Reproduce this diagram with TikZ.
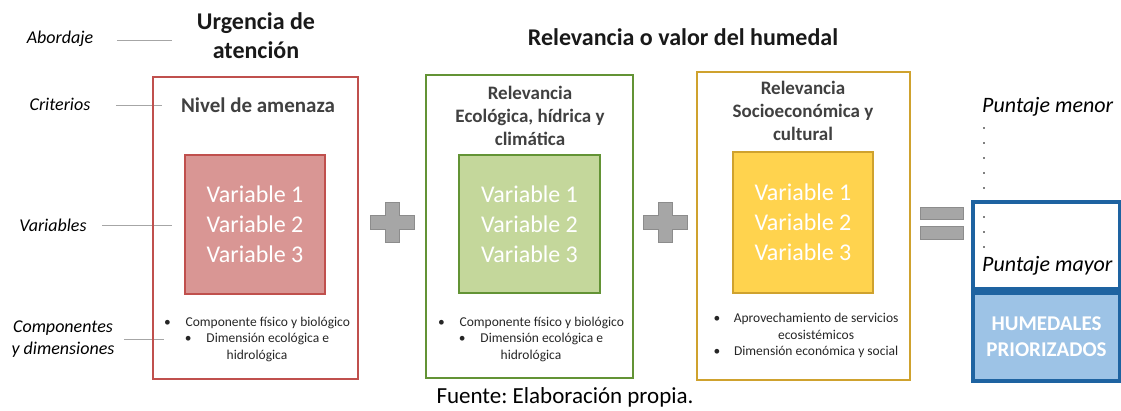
\documentclass[tikz,border=0pt]{standalone}
\usepackage{fontspec}
\setmainfont{Carlito}
\usetikzlibrary{positioning}
\definecolor{amenaza}{HTML}{C0504D}
\definecolor{amenazafill}{HTML}{D99694}
\definecolor{ecologica}{HTML}{639335}
\definecolor{ecologicafill}{HTML}{C4D79B}
\definecolor{social}{HTML}{CFA22E}
\definecolor{socialfill}{HTML}{FFD34E}
\definecolor{humedal}{HTML}{1E63A1}
\definecolor{humedalfill}{HTML}{9DC3E6}
\definecolor{signo}{HTML}{A6A6A6}
\definecolor{titulo}{HTML}{404040}
\frenchspacing

\begin{document}
\begin{tikzpicture}[x=1pt,y=-1pt,
  lbl/.style={font=\fontsize{18}{22}\selectfont\itshape, align=center},
  guide/.style={draw=black!35, line width=0.8pt},
  frame/.style={draw=#1, line width=2pt, inner sep=0pt},
  varbox/.style={draw=#1, fill=#1fill, line width=2.5pt, inner sep=0pt, text=white,
    font=\fontsize{24}{30}\selectfont, align=center},
  head/.style={font=\fontsize{24}{29}\selectfont\bfseries, text=black!90, align=center},
  crit/.style={font=\fontsize{19}{23}\selectfont\bfseries, text=titulo, align=center},
  bullets/.style={font=\fontsize{13.5}{16.5}\selectfont, text=black!85, align=center},
  score/.style={font=\fontsize{22}{25}\selectfont\itshape, anchor=west, inner sep=0pt},
  plusminus/.style={fill=signo, draw=black!45, line width=0.8pt}]
  \useasboundingbox (0,0) rectangle (1121,410);
  % left labels
  \node[lbl] (abordaje) at (60,39) {Abordaje};
  \node[lbl] (criterios) at (60,104) {Criterios};
  \node[lbl] (variables) at (53,225) {Variables};
  \node[lbl] (componentes) at (63,339) {Componentes\\y dimensiones};
  \coordinate (gabordaje) at (172,40);
  \coordinate (gcriterios) at (162,105);
  \coordinate (gvariables) at (172,225);
  \coordinate (gcomponentes) at (164,339);
  \draw[guide] ([xshift=20]abordaje.east |- gabordaje) -- (gabordaje);
  \draw[guide] ([xshift=22]criterios.east |- gcriterios) -- (gcriterios);
  \draw[guide] ([xshift=12]variables.east) -- (gvariables);
  \draw[guide] ([xshift=6]componentes.east) -- (gcomponentes);
  % headings
  \node[head] (urgencia) at (256,36) {Urgencia de\\atención};
  \node[head] (relevancia) at (683,37) {Relevancia o valor del humedal};
  % criteria
  \node[frame=amenaza, minimum width=205, minimum height=302] (amenaza) at (255.5,228) {};
  \node[frame=ecologica, minimum width=207, minimum height=303] (ecologica) at (529.5,226.5) {};
  \node[frame=social, minimum width=213, minimum height=308] (social) at (803.5,226) {};
  \node[crit, font=\fontsize{21}{25}\selectfont\bfseries] (tamenaza) at (258,105) {Nivel de amenaza};
  \node[crit] (tecologica) at (530,116) {Relevancia\\Ecológica, hídrica y\\climática};
  \node[crit] (tsocial) at (803,111) {Relevancia\\Socioeconómica y\\cultural};
  \node[varbox=amenaza, minimum width=140, minimum height=139] (vamenaza) at (255,224.5) {Variable 1\\Variable 2\\Variable 3};
  \node[varbox=ecologica, minimum width=141, minimum height=138] (vecologica) at (529.5,224) {Variable 1\\Variable 2\\Variable 3};
  \node[varbox=social, minimum width=140, minimum height=141] (vsocial) at (803,222.5) {Variable 1\\Variable 2\\Variable 3};
  \node[bullets] (bamenaza) at (257,339) {\textbullet\hspace{1.1em}Componente físico y biológico\\\textbullet\hspace{1.1em}Dimensión ecológica e\\hidrológica};
  \node[bullets] (becologica) at (531,339) {\textbullet\hspace{1.1em}Componente físico y biológico\\\textbullet\hspace{1.1em}Dimensión ecológica e\\hidrológica};
  \node[bullets] (bsocial) at (806,336) {\begin{tabular}{@{}l@{\hspace{1em}}c@{}}\textbullet & Aprovechamiento de servicios\\ & ecosistémicos\\\textbullet & Dimensión económica y social\end{tabular}};
  % signs
  \foreach \cx in {392,665} {\draw[plusminus] (\cx-7,202) -- ++(14,0) -- ++(0,13) -- ++(15,0) -- ++(0,14) -- ++(-15,0) -- ++(0,13) -- ++(-14,0) -- ++(0,-13) -- ++(-15,0) -- ++(0,-14) -- ++(15,0) -- cycle;}
  \draw[plusminus] (920,207) rectangle (963,219);
  \draw[plusminus] (920,226) rectangle (963,239);
  % ranking
  \node[draw=humedal, line width=3.5pt, fill=white, minimum width=147, minimum height=87] (ranking) at (1046.5,245.5) {};
  \node[draw=humedal, line width=3.5pt, fill=humedalfill, minimum width=147, minimum height=88, inner sep=0pt,
    text=white, font=\fontsize{21}{26}\selectfont\bfseries, align=center] (priorizados) at (1046.5,337) {HUMEDALES\\PRIORIZADOS};
  \node[score] (menor) at (982,107) {Puntaje menor};
  \node[score] (mayor) at (982,266) {Puntaje mayor};
  \foreach \y in {128,143,158,173,188,217,232,247} {\fill (984,\y) circle (0.9);}
  % source
  \node[font=\fontsize{23}{27}\selectfont] (fuente) at (565,397) {Fuente: Elaboración propia.};
\end{tikzpicture}
\end{document}
